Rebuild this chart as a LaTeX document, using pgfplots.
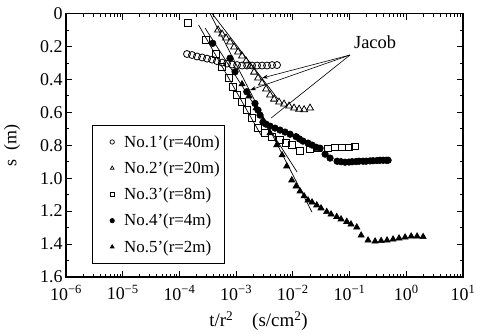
\documentclass[border=0pt]{standalone}
\usepackage{fontspec}
\setmainfont{Liberation Serif}
\usepackage{pgfplots}
\pgfplotsset{compat=1.18}
\usetikzlibrary{arrows.meta}
\begin{document}
\begin{tikzpicture}
\begin{axis}[
  scale only axis, width=397bp, height=263.5bp,
  xmode=log, xmin=1e-6, xmax=10,
  ymin=0, ymax=1.6, y dir=reverse,
  xtick={1e-6,1e-5,1e-4,1e-3,1e-2,1e-1,1,10},
  xticklabels={10\textsuperscript{−6},10\textsuperscript{−5},10\textsuperscript{−4},10\textsuperscript{−3},10\textsuperscript{−2},10\textsuperscript{−1},10\textsuperscript{0},10\textsuperscript{1}},
  ytick={0,0.2,0.4,0.6,0.8,1.0,1.2,1.4,1.6},
  yticklabels={0,0.2,0.4,0.6,0.8,1.0,1.2,1.4,1.6},
  minor ytick={0.1,0.3,0.5,0.7,0.9,1.1,1.3,1.5},
  tick align=inside,
  major tick length=6bp, minor tick length=3bp,
  tick style={line width=0.8pt, black},
  axis line style={line width=1.2pt},
  tick label style={font=\fontsize{18}{21}\selectfont},
  xticklabel style={yshift=-5bp},
  every axis y label/.style={at={(axis description cs:-0.136,0.5)}, rotate=90, anchor=center, font=\fontsize{18}{21}\selectfont},
  every axis x label/.style={at={(axis description cs:0.485,-0.167)}, anchor=center, font=\fontsize{19}{22}\selectfont},
  ylabel={s\,\,\,(m)},
  xlabel={t/r\textsuperscript{2}\quad(s/cm\textsuperscript{2})},
  legend style={at={(axis description cs:0.065,0.577)}, anchor=north west, draw=black, line width=0.8pt,
    font=\fontsize{17}{20}\selectfont, row sep=9bp, inner xsep=3bp, inner ysep=8bp, cells={anchor=west}},
  legend image code/.code={\draw[#1, mark size=2.2pt, line width=0.7pt] plot coordinates {(0.6cm,0cm)};\path[draw=none,fill=none] (0cm,0cm) rectangle (0.95cm,0cm);},
]
% No.1' circles
\addplot[only marks, mark=o, mark size=3.5pt, line width=0.8pt] coordinates {
(1.36e-4,0.246) (1.67e-4,0.252) (2.04e-4,0.261) (2.51e-4,0.267) (3.07e-4,0.274) (3.76e-4,0.280) (4.60e-4,0.289) (5.64e-4,0.298) (6.91e-4,0.304) (8.47e-4,0.310) (1.04e-3,0.313) (1.27e-3,0.316) (1.56e-3,0.316) (1.91e-3,0.316) (2.34e-3,0.316) (2.86e-3,0.316) (3.51e-3,0.316) (4.30e-3,0.313) (5.26e-3,0.313)};
\addlegendentry{No.1'(r=40m)}
% No.2' open triangles
\addplot[only marks, mark=triangle, mark size=4pt, line width=0.8pt] coordinates {
(4.80e-4,0.100) (5.64e-4,0.125) (6.64e-4,0.149) (7.80e-4,0.173) (9.18e-4,0.204) (1.08e-3,0.234) (1.27e-3,0.258) (1.50e-3,0.289) (1.76e-3,0.319) (2.07e-3,0.356) (2.43e-3,0.392) (2.86e-3,0.422) (3.37e-3,0.459) (3.96e-3,0.495) (4.66e-3,0.520) (5.71e-3,0.538) (7.00e-3,0.550) (8.57e-3,0.562) (1.05e-2,0.574) (1.29e-2,0.581) (1.58e-2,0.584) (2.01e-2,0.574)};
\addlegendentry{No.2'(r=20m)}
% No.3' squares
\addplot[only marks, mark=square, mark size=3.3pt, line width=0.8pt] coordinates {
(1.42e-4,0.058) (2.91e-4,0.161) (4.43e-4,0.246) (5.57e-4,0.323) (7.39e-4,0.392) (8.71e-4,0.447) (1.04e-3,0.495) (1.26e-3,0.536) (1.54e-3,0.587) (1.88e-3,0.635) (2.43e-3,0.696) (3.24e-3,0.726) (4.30e-3,0.751) (5.94e-3,0.769) (7.59e-3,0.787) (9.57e-3,0.799) (1.34e-2,0.836) (2.01e-2,0.824) (2.78e-2,0.818) (4.18e-2,0.818) (5.54e-2,0.812) (7.38e-2,0.812) (9.80e-2,0.812) (1.25e-1,0.806)};
\addlegendentry{No.3'(r=8m)}
% No.4' filled circles
\addplot[only marks, mark=*, mark size=3.3pt, line width=0.6pt] coordinates {
(3.86e-4,0.181) (7.80e-4,0.272) (9.57e-4,0.354) (1.54e-3,0.475) (2.15e-3,0.546) (2.43e-3,0.587) (2.64e-3,0.617) (2.98e-3,0.660) (3.37e-3,0.672) (3.96e-3,0.684) (4.85e-3,0.696) (5.94e-3,0.708) (7.28e-3,0.720) (8.93e-3,0.733) (1.14e-2,0.748) (1.31e-2,0.762) (1.51e-2,0.775) (1.85e-2,0.787) (2.18e-2,0.799) (2.56e-2,0.812) (3.02e-2,0.818) (3.70e-2,0.854) (4.53e-2,0.878) (6.03e-2,0.897) (7.08e-2,0.900) (8.34e-2,0.903) (9.80e-2,0.902) (1.11e-1,0.900) (1.30e-1,0.899) (1.47e-1,0.897) (1.73e-1,0.897) (1.95e-1,0.897) (2.30e-1,0.895) (2.59e-1,0.894) (3.05e-1,0.893) (3.45e-1,0.891) (3.90e-1,0.891) (4.41e-1,0.891) (4.78e-1,0.891)};
\addlegendentry{No.4'(r=4m)}
% No.5' filled triangles
\addplot[only marks, mark=triangle*, mark size=3.6pt, line width=0.6pt] coordinates {
(1.27e-3,0.429) (1.69e-3,0.502) (2.25e-3,0.574) (2.98e-3,0.647) (3.96e-3,0.726) (5.20e-3,0.799) (6.46e-3,0.860) (7.80e-3,0.927) (9.57e-3,1.012) (1.14e-2,1.049) (1.34e-2,1.079) (1.58e-2,1.109) (1.85e-2,1.134) (2.18e-2,1.146) (2.64e-2,1.164) (3.14e-2,1.182) (3.96e-2,1.204) (4.72e-2,1.219) (5.94e-2,1.234) (7.08e-2,1.249) (8.93e-2,1.264) (1.06e-1,1.280) (1.34e-1,1.298) (1.60e-1,1.347) (2.12e-1,1.377) (2.82e-1,1.383) (3.60e-1,1.380) (4.58e-1,1.377) (5.85e-1,1.371) (7.46e-1,1.365) (9.53e-1,1.359) (1.22,1.353) (1.55,1.353) (1.98,1.356)};
\addlegendentry{No.5'(r=2m)}
% Jacob straight lines
\addplot[forget plot, black, line width=0.7pt] coordinates {(3.76e-4,0) (5.48e-3,0.520)};
\addplot[forget plot, black, line width=0.7pt] coordinates {(2.18e-4,0.070) (2.75e-3,0.739)};
\addplot[forget plot, black, line width=0.7pt] coordinates {(2.83e-4,0.088) (1.19e-2,0.963)};
\addplot[forget plot, black, line width=0.7pt] coordinates {(3.47e-4,0) (2.18e-2,1.207)};
% annotation
\draw[line width=0.6pt, -{Stealth[length=6pt,width=4pt]}] (axis cs:0.102,0.252) -- (axis cs:2.86e-3,0.392);
\draw[line width=0.6pt, -{Stealth[length=6pt,width=4pt]}] (axis cs:0.102,0.252) -- (axis cs:1.76e-3,0.465);
\draw[line width=0.6pt] (axis cs:0.102,0.252) -- (axis cs:4.13e-3,0.635);
\node[font=\fontsize{18.5}{22}\selectfont] at (axis cs:0.282,0.173) {Jacob};
\end{axis}
\pgfresetboundingbox
\path ([shift={(-66bp,-57bp)}]current axis.south west) rectangle ([shift={(17bp,13.5bp)}]current axis.north east);
\end{tikzpicture}
\end{document}
